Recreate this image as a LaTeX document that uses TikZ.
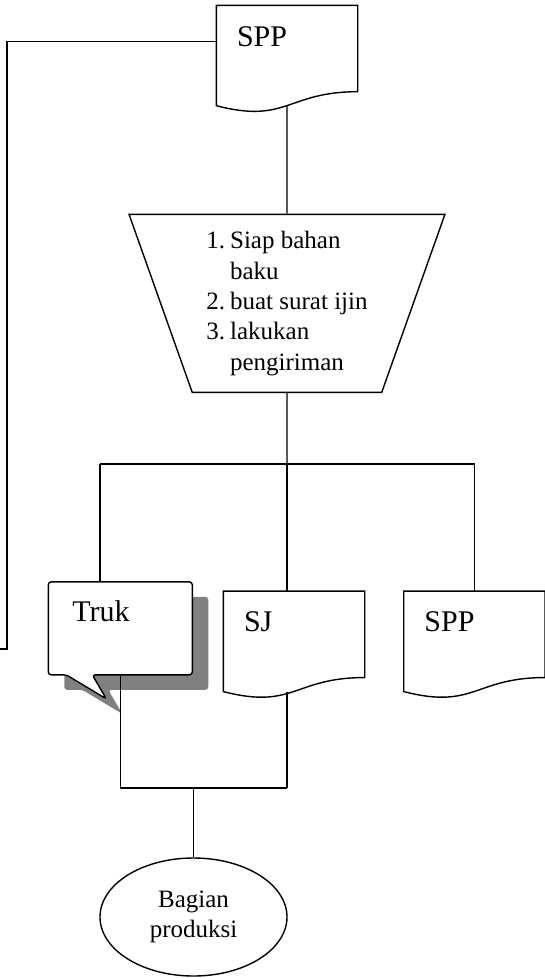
\documentclass[tikz,border=0pt]{standalone}
\usepackage{fontspec}
\setmainfont{Liberation Serif}
\usetikzlibrary{shapes.geometric, positioning}

\begin{document}
\begin{tikzpicture}[
    x=1pt, y=1pt,
    line width=1.4pt,
    dokumen/.style = {rectangle, minimum width=140pt, minimum height=99pt,
      text width=100pt, inner xsep=20pt, inner ysep=20pt,
      text height=20pt, text depth=39pt, align=left,
      font=\fontsize{30}{36}\selectfont,
      append after command={\pgfextra{
        \draw (\tikzlastnode.north west) -- (\tikzlastnode.north east)
          -- ([yshift=14pt]\tikzlastnode.south east)
          .. controls ([yshift=14pt]\tikzlastnode.south) and ([yshift=-18.4pt]\tikzlastnode.south)
          .. (\tikzlastnode.south west) -- cycle;}}},
    proses/.style = {trapezium, draw, trapezium stretches=true, shape border rotate=180,
      trapezium angle=70.5, minimum width=316pt, minimum height=178pt,
      font=\fontsize{25}{30.3}\selectfont},
    gelembung/.style = {rectangle, minimum width=144pt, minimum height=93pt,
      text width=96pt, inner xsep=24pt, inner ysep=20pt,
      text height=20pt, text depth=33pt, align=left,
      font=\fontsize{30}{36}\selectfont},
    terminal/.style = {ellipse, draw, minimum width=187pt, minimum height=118pt,
      inner sep=0pt, align=center, font=\fontsize{25}{30}\selectfont}
]
\useasboundingbox (0,0) rectangle (545,-978);

% Dokumen masuk
\node[dokumen] (spptop) at (287,-55.5) {SPP};

% Proses
\node[proses, below=108pt of spptop] (trap) {\begin{tabular}{@{}l@{\hspace{5pt}}l@{}}
  1. & Siap bahan \\ & baku \\ 2. & buat surat ijin \\ 3. & lakukan \\ & pengiriman
\end{tabular}};

\coordinate[below=71pt of trap] (cabang);
\coordinate[left=187pt of cabang] (cabangkiri);

% Keluaran
\node[dokumen, below=198pt of trap, xshift=7pt] (sj) {SJ};
\node[dokumen, right=39pt of sj] (sppbot) {SPP};

% Balon truk dengan bayangan
\coordinate[left=103pt of sj, yshift=13pt] (trukpos);
\fill[gray, rounded corners=3pt] ([shift={(-56pt,31.5pt)}]trukpos) -- ++(144,0) -- ++(0,-93)
  -- ++(-100,0) -- ++(14,-24) -- ++(-40,24) -- ++(-18,0) -- cycle;
\filldraw[fill=white, draw=black, rounded corners=3pt] ([shift={(-72pt,46.5pt)}]trukpos) -- ++(144,0) -- ++(0,-93)
  -- ++(-100,0) -- ++(14,-24) -- ++(-40,24) -- ++(-18,0) -- cycle;
\node[gelembung] (truk) at (trukpos) {Truk};

\coordinate (gabung) at (287,-788);
\node[terminal] (prod) at (193.5,-917) {Bagian\\produksi};

% Garis alir
\coordinate (balik) at (7,-649);
\coordinate (keluar) at (0,-649);
\draw ([yshift=-36pt]spptop.north west) -| (balik) -- (keluar);
\draw (spptop) -- (trap);
\draw (trap) -- (cabang);
\draw (cabang) -- (cabang |- sj.north);
\draw (cabangkiri) -- (cabangkiri -| sppbot) -- (sppbot);
\draw (cabangkiri) -- (cabangkiri |- truk.north);
\draw (truk) |- (gabung);
\draw (gabung) -- (cabang |- sj.south);
\draw (prod.north |- gabung) -- (prod);

\end{tikzpicture}
\end{document}
